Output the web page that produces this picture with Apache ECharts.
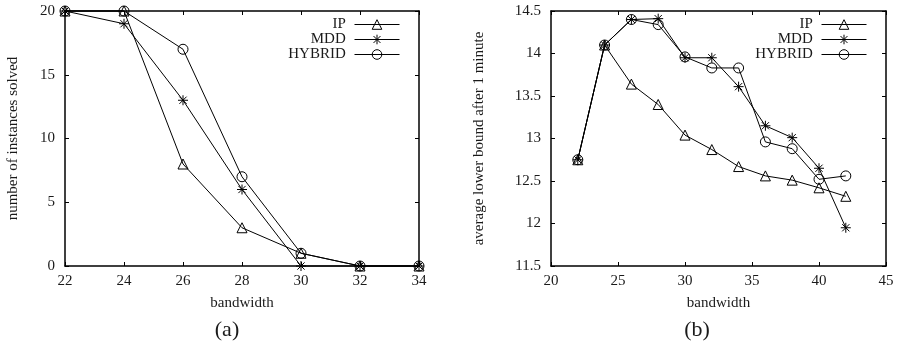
<!DOCTYPE html>
<html><head><meta charset="utf-8">
<script src="https://cdn.jsdelivr.net/npm/echarts@6/dist/echarts.min.js"></script>
<style>html,body{margin:0;padding:0;background:#fff}#c{width:899px;height:344px}</style>
</head><body><div id="c"></div>
<script>
// ---- data ----
const bwA = [22, 24, 26, 28, 30, 32, 34];
const ipA = [20, 20, 8, 3, 1, 0, 0];
const mddA = [20, 19, 13, 6, 0, 0, 0];
const hybA = [20, 20, 17, 7, 1, 0, 0];

const bwB = [22, 24, 26, 28, 30, 32, 34, 36, 38, 40, 42];
const ipB = [12.75, 14.1, 13.64, 13.40, 13.04, 12.87, 12.67, 12.56, 12.51, 12.42, 12.32];
const mddB = [12.75, 14.1, 14.4, 14.41, 13.95, 13.95, 13.61, 13.15, 13.01, 12.65, 11.95];
const hybB = [12.75, 14.1, 14.4, 14.34, 13.96, 13.83, 13.83, 12.96, 12.88, 12.52, 12.56];

const seriesNames = ['IP', 'MDD', 'HYBRID'];
const panelLabels = ['(a)', '(b)'];
const xTitle = 'bandwidth';
const yTitles = ['number of instances solved', 'average lower bound after 1 minute'];

// ---- styling ----
const FONT = 'Liberation Serif';
const TXT = '#1a1a1a';
const CLEAR = 'rgba(0,0,0,0)';
const STAR = 'path://M0,-1L0,1M-1,0L1,0M-0.72,-0.72L0.72,0.72M-0.72,0.72L0.72,-0.72';
const symbols = ['triangle', STAR, 'circle'];
const sizes = [10, 10, 10];

const chart = echarts.init(document.getElementById('c'), null, {renderer: 'canvas'});

const grids = [
  {left: 65, top: 11, width: 354, height: 255},
  {left: 551, top: 11, width: 335, height: 255}
];

function mainX(gi, min, max, interval) {
  return {
    type: 'value', gridIndex: gi, min, max, interval, position: 'bottom',
    name: xTitle, nameLocation: 'middle', nameGap: 30,
    nameTextStyle: {fontFamily: FONT, fontSize: 15, color: TXT},
    axisLine: {show: true, onZero: false, lineStyle: {color: '#000', width: 1.5}},
    axisTick: {show: true, inside: true, length: 4, lineStyle: {color: '#000', width: 1}},
    axisLabel: {show: true, margin: 8, fontFamily: FONT, fontSize: 15, color: TXT},
    splitLine: {show: false}
  };
}
function mirrorX(gi, min, max, interval) {
  return {
    type: 'value', gridIndex: gi, min, max, interval, position: 'top',
    axisLine: {show: true, onZero: false, lineStyle: {color: '#000', width: 1.5}},
    axisTick: {show: true, inside: true, length: 4, lineStyle: {color: '#000', width: 1}},
    axisLabel: {show: false}, splitLine: {show: false}
  };
}
function mainY(gi, min, max, interval, title, gap) {
  return {
    type: 'value', gridIndex: gi, min, max, interval, position: 'left',
    name: title, nameLocation: 'middle', nameGap: gap, nameRotate: 90,
    nameTextStyle: {fontFamily: FONT, fontSize: 15, color: TXT},
    axisLine: {show: true, onZero: false, lineStyle: {color: '#000', width: 1.5}},
    axisTick: {show: true, inside: true, length: 4, lineStyle: {color: '#000', width: 1}},
    axisLabel: {show: true, margin: 10, fontFamily: FONT, fontSize: 15, color: TXT},
    splitLine: {show: false}
  };
}
function mirrorY(gi, min, max, interval) {
  return {
    type: 'value', gridIndex: gi, min, max, interval, position: 'right',
    axisLine: {show: true, onZero: false, lineStyle: {color: '#000', width: 1.5}},
    axisTick: {show: true, inside: true, length: 4, lineStyle: {color: '#000', width: 1}},
    axisLabel: {show: false}, splitLine: {show: false}
  };
}

function mk(name, xs, ys, gi, k) {
  return {
    type: 'line', name, xAxisIndex: gi, yAxisIndex: gi,
    data: xs.map((x, i) => [x, ys[i]]),
    symbol: symbols[k], symbolSize: sizes[k], showAllSymbol: true,
    lineStyle: {color: '#000', width: 1},
    itemStyle: {color: CLEAR, borderColor: '#000', borderWidth: 1},
    emphasis: {disabled: true}, clip: false, animation: false
  };
}

function legend(right) {
  return {
    data: seriesNames, orient: 'vertical', align: 'right',
    right, top: 17, padding: 0, itemWidth: 45, itemHeight: 12, itemGap: 0,
    formatter: n => n + ' ',
    lineStyle: {width: 1, color: '#000'},
    itemStyle: {color: CLEAR, borderColor: '#000', borderWidth: 1},
    textStyle: {fontFamily: FONT, fontSize: 15, color: TXT},
    selectedMode: false, inactiveColor: '#000'
  };
}

chart.setOption({
  backgroundColor: '#fff',
  animation: false,
  grid: grids,
  legend: [legend(499), legend(32)],
  xAxis: [mainX(0, 22, 34, 2), mainX(1, 20, 45, 5), mirrorX(0, 22, 34, 2), mirrorX(1, 20, 45, 5)],
  yAxis: [mainY(0, 0, 20, 5, yTitles[0], 44), mainY(1, 11.5, 14.5, 0.5, yTitles[1], 64),
          mirrorY(0, 0, 20, 5), mirrorY(1, 11.5, 14.5, 0.5)],
  series: [
    mk(seriesNames[0], bwA, ipA, 0, 0), mk(seriesNames[1], bwA, mddA, 0, 1), mk(seriesNames[2], bwA, hybA, 0, 2),
    mk(seriesNames[0], bwB, ipB, 1, 0), mk(seriesNames[1], bwB, mddB, 1, 1), mk(seriesNames[2], bwB, hybB, 1, 2)
  ],
  graphic: [
    {type: 'text', x: 227, y: 330, style: {text: panelLabels[0], fontFamily: FONT, fontSize: 22, fill: TXT, align: 'center', verticalAlign: 'middle'}},
    {type: 'text', x: 697, y: 330, style: {text: panelLabels[1], fontFamily: FONT, fontSize: 22, fill: TXT, align: 'center', verticalAlign: 'middle'}}
  ]
});
</script>
</body></html>
